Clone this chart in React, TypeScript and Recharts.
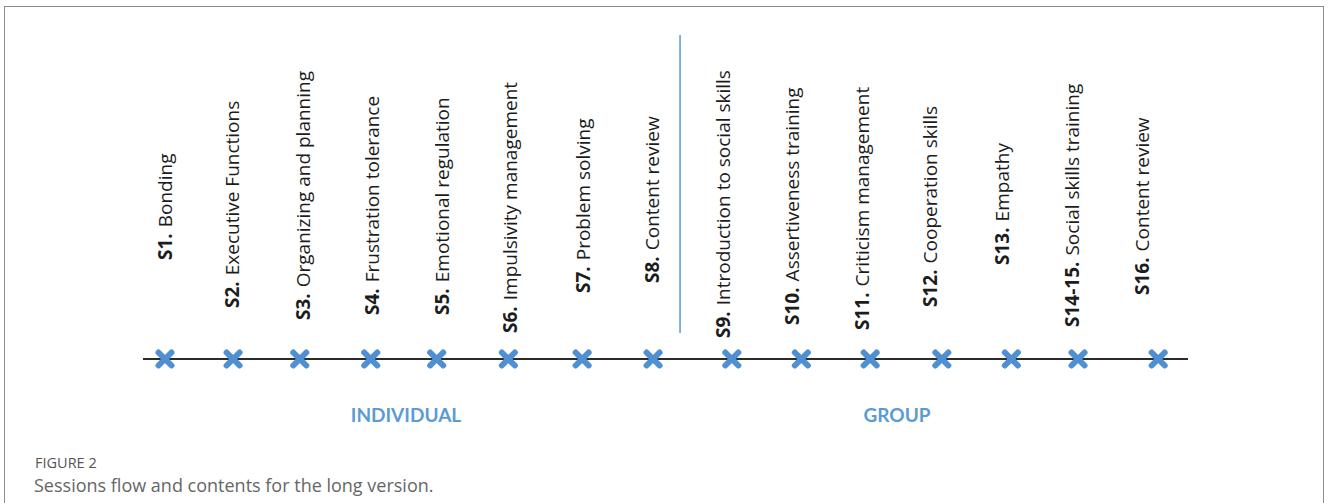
import { ComposedChart, Scatter, XAxis, YAxis, ReferenceLine } from 'recharts';

// session codes and titles, in order along the timeline
const sessionCodes = ['S1.', 'S2.', 'S3.', 'S4.', 'S5.', 'S6.', 'S7.', 'S8.', 'S9.', 'S10.', 'S11.', 'S12.', 'S13.', 'S14-15.', 'S16.'];
const sessionTitles = [
    'Bonding',
    'Executive Functions',
    'Organizing and planning',
    'Frustration tolerance',
    'Emotional regulation',
    'Impulsivity management',
    'Problem solving',
    'Content review',
    'Introduction to social skills',
    'Assertiveness training',
    'Criticism management',
    'Cooperation skills',
    'Empathy',
    'Social skills training',
    'Content review',
];
// where each session sits on the timeline (session units)
const sessionPos = [0, 0.96, 1.9, 2.9, 3.83, 4.84, 5.88, 6.88, 7.99, 8.97, 9.94, 10.95, 11.93, 12.87, 14.0];
// where the rotated label sits, and how high above the line it starts
const labelPos = [0, 0.94, 1.95, 2.92, 3.91, 4.86, 5.89, 6.87, 7.87, 8.84, 9.83, 10.79, 11.8, 12.79, 13.77];
const labelLift = [99, 51, 39, 44, 44, 26, 66, 76, 21, 34, 29, 52, 94, 32, 64];

const dividerPos = 7.26;
const phases = ['INDIVIDUAL', 'GROUP'];

const markerData = sessionPos.map((x) => ({ x, y: 0 }));
const labelData = labelPos.map((x, i) => ({ x, y: labelLift[i], code: sessionCodes[i], title: sessionTitles[i] }));

const BLUE = '#4f8fd2';

const XMark = (props: any) => {
    const { cx, cy } = props;
    if (cx == null || cy == null) return null;
    const r = 6.5;
    return (
        <g>
            <line x1={cx - r} y1={cy - r} x2={cx + r} y2={cy + r} stroke={BLUE} strokeWidth={6} strokeLinecap="round" />
            <line x1={cx - r} y1={cy + r} x2={cx + r} y2={cy - r} stroke={BLUE} strokeWidth={6} strokeLinecap="round" />
        </g>
    );
};

const SessionLabel = (props: any) => {
    const { cx, cy, payload } = props;
    if (cx == null || cy == null) return null;
    return (
        <text
            x={cx}
            y={cy}
            transform={`rotate(-90 ${cx} ${cy})`}
            dominantBaseline="central"
            textAnchor="start"
            fontFamily='"Open Sans", sans-serif'
            fontSize={19}
            fill="#1c1c1c"
        >
            <tspan fontWeight="bold">{payload.code}</tspan>
            <tspan dx={6}>{payload.title}</tspan>
        </text>
    );
};

export default function App() {
    return (
        <div style={{ position: 'absolute', left: 0, top: 0, width: 1328, height: 503, background: '#fff', overflow: 'hidden' }}>
            <div
                style={{
                    position: 'absolute',
                    left: 4,
                    top: 6,
                    width: 1320,
                    height: 520,
                    border: '1.5px solid #858c97',
                    boxSizing: 'border-box',
                }}
            />
            <ComposedChart width={1328} height={503} margin={{ top: 35, right: 140, bottom: 144, left: 143 }}>
                <XAxis type="number" dataKey="x" domain={[-0.31, 14.42]} allowDataOverflow hide />
                <YAxis type="number" dataKey="y" domain={[0, 324]} hide />
                <ReferenceLine y={0} stroke="#2b2b2b" strokeWidth={2} />
                <ReferenceLine
                    segment={[
                        { x: dividerPos, y: 26 },
                        { x: dividerPos, y: 324 },
                    ]}
                    stroke="#5b9bd5"
                    strokeWidth={1.5}
                />
                <Scatter data={markerData} shape={XMark} isAnimationActive={false} />
                <Scatter data={labelData} shape={SessionLabel} isAnimationActive={false} />
            </ComposedChart>
            <div style={{ position: 'absolute', left: 306, top: 403, width: 200, textAlign: 'center', fontFamily: 'Lato, sans-serif', fontWeight: 'bold', fontSize: 19, color: '#5b9bd5' }}>
                {phases[0]}
            </div>
            <div style={{ position: 'absolute', left: 797, top: 403, width: 200, textAlign: 'center', fontFamily: 'Lato, sans-serif', fontWeight: 'bold', fontSize: 19, color: '#5b9bd5' }}>
                {phases[1]}
            </div>
            <div style={{ position: 'absolute', left: 35, top: 454, fontFamily: '"Open Sans", sans-serif', fontSize: 14.5, color: '#555', lineHeight: '18px' }}>
                FIGURE 2
            </div>
            <div style={{ position: 'absolute', left: 34, top: 473, fontFamily: '"Open Sans", sans-serif', fontSize: 18, color: '#666', lineHeight: '24px' }}>
                Sessions flow and contents for the long version.
            </div>
        </div>
    );
}
